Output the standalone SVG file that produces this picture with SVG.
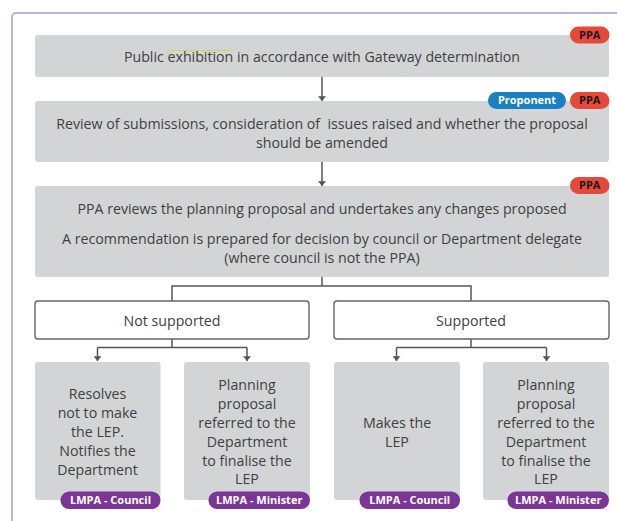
<svg xmlns="http://www.w3.org/2000/svg" width="617" height="521" viewBox="0 0 617 521">
<defs>
<marker id="arr" viewBox="0 0 6 10" refX="6" refY="5" markerWidth="5" markerHeight="8" markerUnits="userSpaceOnUse" orient="auto">
<path d="M0,0 L6,5 L0,10 Z" fill="#555"/>
</marker>
<style>
.box{fill:#d3d4d6}
.wbox{fill:#fff;stroke:#666;stroke-width:1.4}
.t{font-family:"Open Sans","Liberation Sans",sans-serif;font-size:14.2px;fill:#404040;text-anchor:middle}
.b{font-family:"Open Sans","Liberation Sans",sans-serif;font-size:11px;font-weight:bold;text-anchor:middle}
.ppa{fill:#e5493a}
.pro{fill:#1a80c2}
.lmpa{fill:#7b3596}
.dk{fill:#1a1a1a}
.wt{fill:#fff}
.c{fill:none;stroke:#555;stroke-width:1.5}
</style>
</defs>
<rect x="12" y="13" width="640" height="540" rx="4" fill="#fff" stroke="#9ca1d3" stroke-width="1.5"/>

<g id="connectors">
<line class="c" x1="322" y1="77" x2="322" y2="101" marker-end="url(#arr)"/>
<line class="c" x1="322" y1="162" x2="322" y2="186" marker-end="url(#arr)"/>
<path class="c" d="M322,277 V286 M172,301 V286 H471 V301"/>
<path class="c" d="M172,339 V347.5 M97.5,347.5 H247"/>
<line class="c" x1="97.5" y1="347.5" x2="97.5" y2="361" marker-end="url(#arr)"/>
<line class="c" x1="247" y1="347.5" x2="247" y2="361" marker-end="url(#arr)"/>
<path class="c" d="M471,339 V347.5 M396.5,347.5 H546.5"/>
<line class="c" x1="396.5" y1="347.5" x2="396.5" y2="361" marker-end="url(#arr)"/>
<line class="c" x1="546.5" y1="347.5" x2="546.5" y2="361" marker-end="url(#arr)"/>
</g>

<g id="exhibition">
<rect class="box" x="35" y="35" width="574" height="42" rx="3"/>
<line x1="168" y1="50.5" x2="233" y2="50.5" stroke="#d6d64a" stroke-width="1.2"/>
<text class="t" x="322" y="62">Public exhibition in accordance with Gateway determination</text>
<rect class="ppa" x="570" y="26.5" width="39.5" height="17" rx="8.5"/>
<text class="b dk" x="589.7" y="38.8">PPA</text>
</g>

<g id="review">
<rect class="box" x="35" y="101" width="574" height="61" rx="3"/>
<text class="t" x="322" y="128.5" xml:space="preserve">Review of submissions, consideration of  issues raised and whether the proposal</text>
<text class="t" x="322" y="147.5">should be amended</text>
<rect class="pro" x="488" y="92" width="78" height="17" rx="8.5"/>
<text class="b wt" x="527" y="104.3">Proponent</text>
<rect class="ppa" x="570" y="92" width="39.5" height="17" rx="8.5"/>
<text class="b dk" x="589.7" y="104.3">PPA</text>
</g>

<g id="ppa-review">
<rect class="box" x="35" y="186" width="574" height="91" rx="3"/>
<text class="t" x="322" y="213.5">PPA reviews the planning proposal and undertakes any changes proposed</text>
<text class="t" x="322" y="244">A recommendation is prepared for decision by council or Department delegate</text>
<text class="t" x="322" y="262.5">(where council is not the PPA)</text>
<rect class="ppa" x="570" y="177" width="39.5" height="17" rx="8.5"/>
<text class="b dk" x="589.7" y="189.3">PPA</text>
</g>

<g id="not-supported">
<rect class="wbox" x="35" y="301" width="274" height="38" rx="3"/>
<text class="t" x="172" y="326">Not supported</text>
</g>

<g id="supported">
<rect class="wbox" x="334" y="301" width="275" height="38" rx="3"/>
<text class="t" x="471" y="326">Supported</text>
</g>

<g id="resolves">
<rect class="box" x="35" y="362" width="125.5" height="138" rx="3"/>
<text class="t" x="97.5" y="399">Resolves</text>
<text class="t" x="97.5" y="418">not to make</text>
<text class="t" x="97.5" y="437">the LEP.</text>
<text class="t" x="97.5" y="456">Notifies the</text>
<text class="t" x="97.5" y="475">Department</text>
<rect class="lmpa" x="60.5" y="491.5" width="100" height="17.5" rx="8.7"/>
<text class="b wt" x="110.5" y="504">LMPA - Council</text>
</g>

<g id="referred-1">
<rect class="box" x="184" y="362" width="126" height="138" rx="3"/>
<text class="t" x="247" y="389.5">Planning</text>
<text class="t" x="247" y="408.5">proposal</text>
<text class="t" x="247" y="427.5">referred to the</text>
<text class="t" x="247" y="446.5">Department</text>
<text class="t" x="247" y="465.5">to finalise the</text>
<text class="t" x="247" y="484">LEP</text>
<rect class="lmpa" x="208.5" y="491.5" width="101.5" height="17.5" rx="8.7"/>
<text class="b wt" x="259.2" y="504">LMPA - Minister</text>
</g>

<g id="makes">
<rect class="box" x="334" y="362" width="126" height="138" rx="3"/>
<text class="t" x="397" y="427.5">Makes the</text>
<text class="t" x="397" y="446.5">LEP</text>
<rect class="lmpa" x="359.5" y="491.5" width="100.5" height="17.5" rx="8.7"/>
<text class="b wt" x="409.7" y="504">LMPA - Council</text>
</g>

<g id="referred-2">
<rect class="box" x="483" y="362" width="126" height="138" rx="3"/>
<text class="t" x="546" y="389.5">Planning</text>
<text class="t" x="546" y="408.5">proposal</text>
<text class="t" x="546" y="427.5">referred to the</text>
<text class="t" x="546" y="446.5">Department</text>
<text class="t" x="546" y="465.5">to finalise the</text>
<text class="t" x="546" y="484">LEP</text>
<rect class="lmpa" x="507.5" y="491.5" width="101.5" height="17.5" rx="8.7"/>
<text class="b wt" x="558.2" y="504">LMPA - Minister</text>
</g>
</svg>
